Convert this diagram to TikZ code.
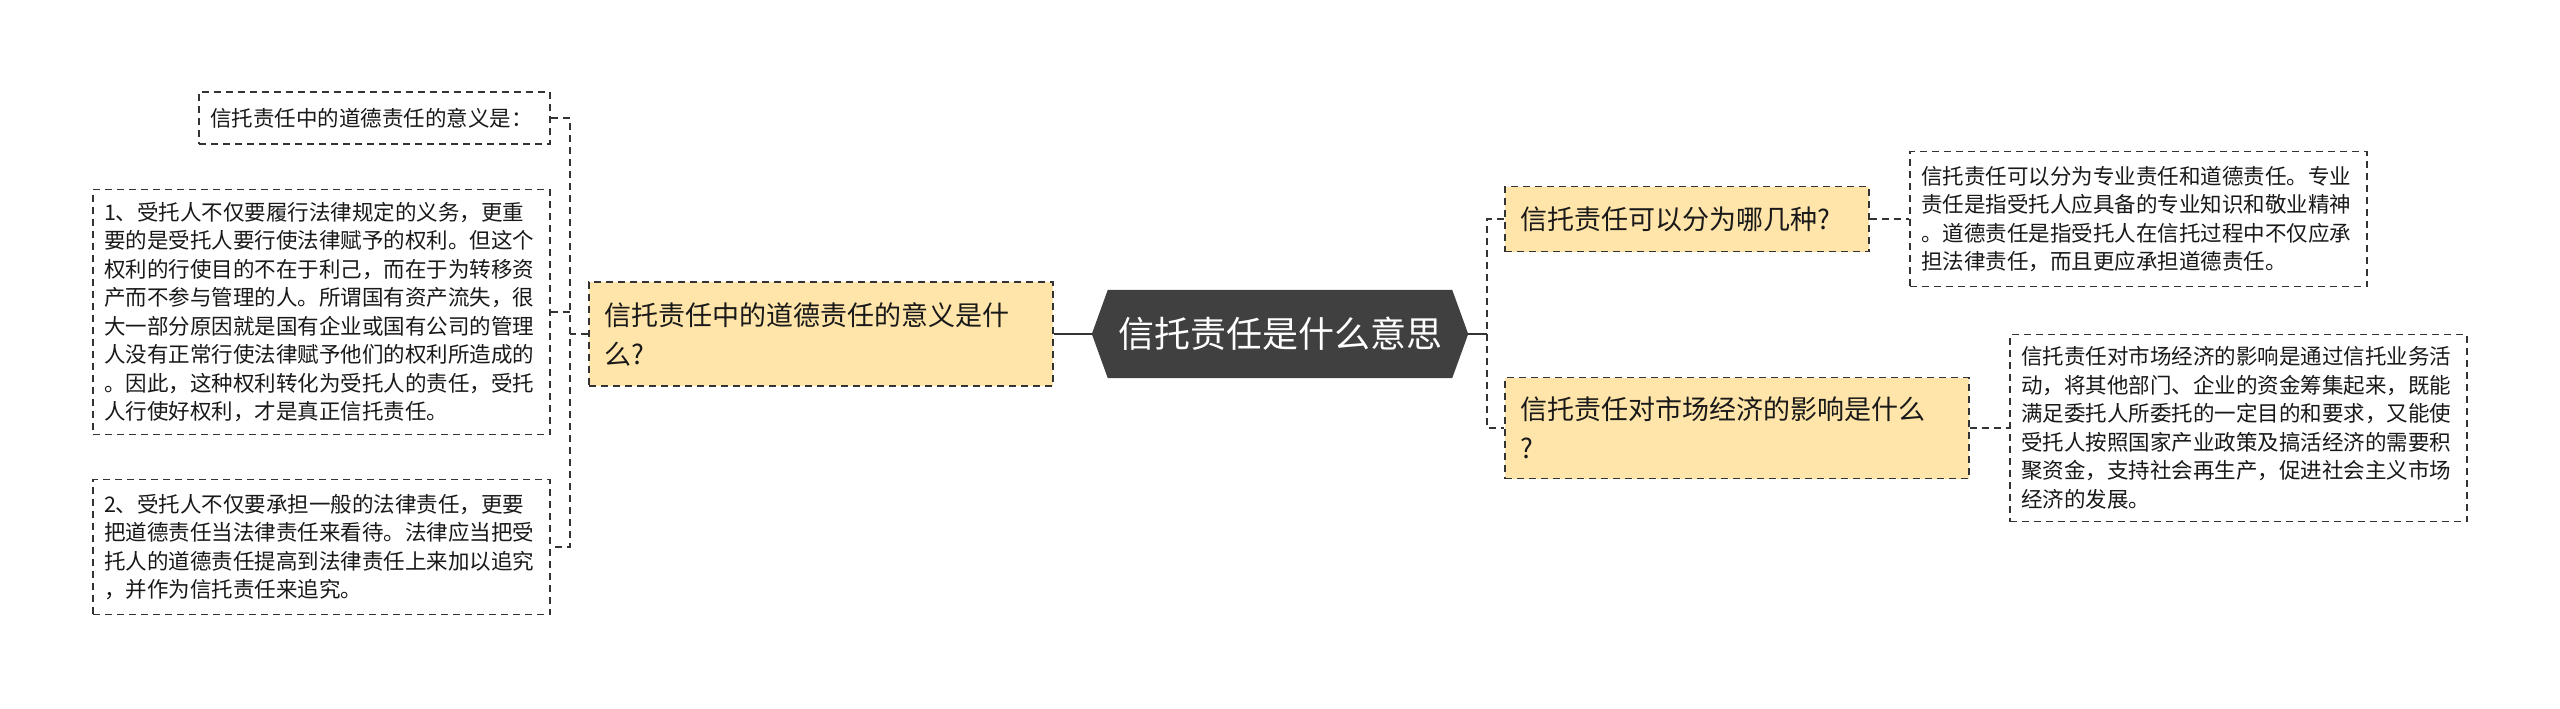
\documentclass[tikz,border=0pt]{standalone}
\usepackage{fontspec}
\setmainfont{Noto Sans CJK SC}
\usetikzlibrary{backgrounds}
\definecolor{mainfill}{HTML}{FFE5AA}
\definecolor{cfill}{HTML}{404040}
\definecolor{lcol}{HTML}{333333}
\tikzset{
  mainbox/.style={draw=lcol, fill=mainfill, line width=1.6pt, dash pattern=on 7pt off 5pt,
    inner xsep=15pt, inner ysep=0pt, align=left, anchor=center,
    font=\fontsize{27pt}{39pt}\selectfont, text=black!90},
  leafbox/.style={draw=lcol, fill=white, line width=1.4pt, dash pattern=on 7pt off 5pt,
    inner xsep=11pt, inner ysep=0pt, align=left, anchor=center,
    font=\fontsize{21.5pt}{28.5pt}\selectfont, text=black!90},
  centerbox/.style={inner sep=0pt, align=center, text=white,
    font=\fontsize{36pt}{44pt}\selectfont},
  conn/.style={draw=lcol, line width=2.2pt},
  dconn/.style={draw=lcol, line width=2pt, dash pattern=on 7pt off 5pt},
}
\begin{document}
\begin{tikzpicture}[x=1pt,y=-1pt]
\useasboundingbox (0,0) rectangle (2560,709);

% central node
\node[centerbox, minimum width=376pt, minimum height=88pt] (c) at (1280,334) {信托责任是什么意思};
\begin{scope}[on background layer]
\fill[cfill] (c.west) -- ([xshift=16pt]c.north west) -- ([xshift=-16pt]c.north east) -- (c.east)
  -- ([xshift=-16pt]c.south east) -- ([xshift=16pt]c.south west) -- cycle;
\end{scope}

% left main
\node[mainbox, text width=434pt, minimum height=104pt] (L) at (821,334)
  {信托责任中的道德责任的意义是什\\么?};

% left leaves
\node[leafbox, text width=329pt, minimum height=52pt] (LL1) at (374.5,118)
  {信托责任中的道德责任的意义是：};
\node[leafbox, text width=435pt, minimum height=245pt] (LL2) at (321.5,312)
  {1、受托人不仅要履行法律规定的义务，更重\\要的是受托人要行使法律赋予的权利。但这个\\权利的行使目的不在于利己，而在于为转移资\\产而不参与管理的人。所谓国有资产流失，很\\大一部分原因就是国有企业或国有公司的管理\\人没有正常行使法律赋予他们的权利所造成的\\。因此，这种权利转化为受托人的责任，受托\\人行使好权利，才是真正信托责任。};
\node[leafbox, text width=435pt, minimum height=135pt] (LL3) at (321.5,547)
  {2、受托人不仅要承担一般的法律责任，更要\\把道德责任当法律责任来看待。法律应当把受\\托人的道德责任提高到法律责任上来加以追究\\，并作为信托责任来追究。};

% right mains
\node[mainbox, text width=334pt, minimum height=65pt] (R1) at (1687,219)
  {信托责任可以分为哪几种?};
\node[mainbox, text width=434pt, minimum height=101pt] (R2) at (1737,428)
  {信托责任对市场经济的影响是什么\\?};

% right leaves
\node[leafbox, text width=435pt, minimum height=135pt] (RL1) at (2138.5,219)
  {信托责任可以分为专业责任和道德责任。专业\\责任是指受托人应具备的专业知识和敬业精神\\。道德责任是指受托人在信托过程中不仅应承\\担法律责任，而且更应承担道德责任。};
\node[leafbox, text width=435pt, minimum height=187pt] (RL2) at (2238.5,428)
  {信托责任对市场经济的影响是通过信托业务活\\动，将其他部门、企业的资金筹集起来，既能\\满足委托人所委托的一定目的和要求，又能使\\受托人按照国家产业政策及搞活经济的需要积\\聚资金，支持社会再生产，促进社会主义市场\\经济的发展。};

% connectors
\coordinate (lb) at (570,334);
\coordinate (rb) at (1487,334);
\draw[conn] (L.east) -- (c.west);
\draw[dconn] (L.west) -- (lb);
\draw[dconn] (LL1.east) -| (lb) |- (LL3.east);
\draw[dconn] (LL2.east) -- (LL2.east -| lb);
\draw[conn] (c.east) -- (rb);
\draw[dconn] (R1.west) -| (rb) |- (R2.west);
\draw[dconn] (R1.east) -- (RL1.west);
\draw[dconn] (R2.east) -- (RL2.west);
\end{tikzpicture}
\end{document}
